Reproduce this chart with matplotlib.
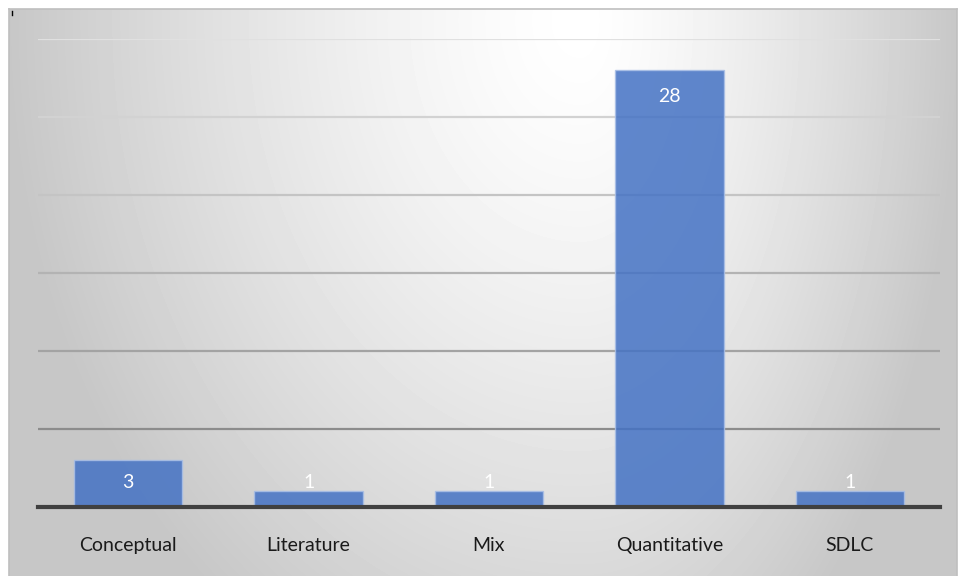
import numpy as np
import matplotlib
matplotlib.use("Agg")
import matplotlib.pyplot as plt
from matplotlib.lines import Line2D

categories = ["Conceptual", "Literature", "Mix", "Quantitative", "SDLC"]
counts = [3, 1, 1, 28, 1]
y_ticks = [0, 5, 10, 15, 20, 25, 30]
grid_colors = ["#404040", "#8c8c8c", "#a3a3a3", "#b3b3b3", "#c4c4c4", "#d2d2d2", "#e0e0e0"]

plt.rcParams["font.family"] = ["Lato", "DejaVu Sans"]

W, H = 958, 576
fig = plt.figure(figsize=(W / 100, H / 100), dpi=100)
fig.patch.set_facecolor("white")

# chart area background: light path gradient, brightest near the top centre
bg = fig.add_axes([9 / W, 0, (957 - 9) / W, (H - 9) / H])
xs = np.arange(9, 957)
ys = np.arange(9, H)
X, Y = np.meshgrid(xs, ys)
cx, cy = 580, 20
nx = np.where(X < cx, (cx - X) / (cx - 9), (X - cx) / (957 - cx))
ny = (Y - cy) / (H - cy) * 0.75
d = np.clip(np.sqrt(nx ** 2 + ny ** 2), 0, 1)
val = (255 - 56 * d ** 1.35) / 255
bg.imshow(val, cmap="gray", vmin=0, vmax=1, aspect="auto",
          extent=[9, 957, H, 9], interpolation="bilinear")
bg.set_xticks([])
bg.set_yticks([])
bg.spines["bottom"].set_visible(False)
for side in ["top", "left", "right"]:
    bg.spines[side].set_color("#bfbfbf")
    bg.spines[side].set_linewidth(1.2)

ax = fig.add_axes([38 / W, 69 / H, 902 / W, 468 / H])
ax.set_facecolor("none")
x = np.arange(len(categories))
ax.bar(x, counts, width=0.6, color="#4472C4", alpha=0.85,
       edgecolor="#a9bfe6", linewidth=1.0, zorder=3)

ax.set_xlim(-0.5, len(categories) - 0.5)
ax.set_ylim(0, 30)
ax.set_yticks(y_ticks)
ax.yaxis.grid(True, linewidth=1.6, zorder=0)
for line, c in zip(ax.get_ygridlines(), grid_colors):
    line.set_color(c)
ax.tick_params(axis="y", left=False, labelleft=False)
ax.tick_params(axis="x", bottom=False, pad=18, labelsize=14, colors="#1a1a1a")
ax.set_xticks(x)
ax.set_xticklabels(categories)
for s in ["top", "left", "right"]:
    ax.spines[s].set_visible(False)
ax.spines["bottom"].set_color("#404040")
ax.spines["bottom"].set_linewidth(3)
ax.spines["bottom"].set_zorder(4)

for xi, v in zip(x, counts):
    ax.text(xi, max(v - 1.7, 1.55), str(v), ha="center", va="center",
            color="white", fontsize=14, zorder=5)

fig.add_artist(Line2D([11.5 / W, 11.5 / W], [(H - 11) / H, (H - 15) / H],
                      color="black", linewidth=1))

fig.savefig("out.png", dpi=100)
